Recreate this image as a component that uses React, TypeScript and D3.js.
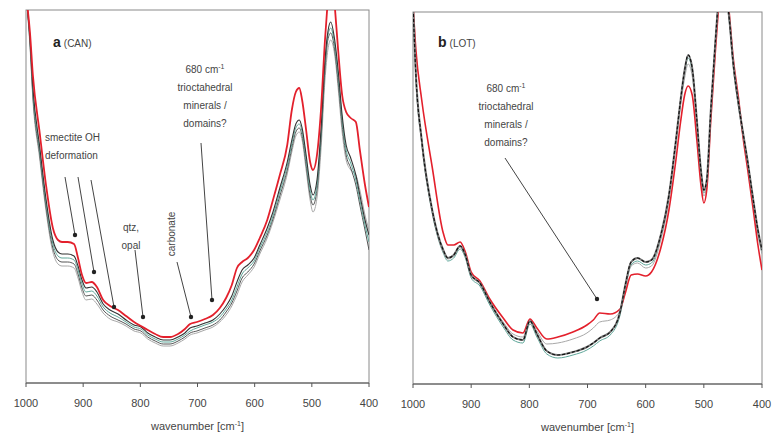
import React from "react";
import * as d3 from "d3";

// ---------- Panel a (CAN) ----------
const wnA = [1000, 993, 988, 976, 965, 953, 944, 937, 927, 916, 909, 902, 895, 885, 876, 865, 853, 839, 825, 811, 799, 787, 774, 760, 748, 734, 722, 713, 701, 687, 673, 661, 650, 640, 631, 622, 612, 601, 591, 578, 568, 556, 543, 535, 528, 522, 517, 510, 503, 498, 491, 484, 477, 472, 467, 460, 454, 447, 440, 432, 423, 416, 407, 400];
const redA = [3.88, 3.50, 3.08, 2.50, 1.98, 1.55, 1.43, 1.41, 1.41, 1.39, 1.25, 1.08, 1.00, 1.01, 0.96, 0.83, 0.77, 0.73, 0.67, 0.61, 0.57, 0.53, 0.49, 0.46, 0.46, 0.49, 0.54, 0.59, 0.61, 0.64, 0.68, 0.75, 0.85, 0.98, 1.15, 1.21, 1.25, 1.33, 1.45, 1.63, 1.83, 2.08, 2.38, 2.73, 2.91, 2.95, 2.83, 2.53, 2.21, 2.13, 2.28, 2.73, 3.43, 3.83, 4.23, 3.78, 3.33, 2.88, 2.71, 2.65, 2.61, 2.33, 1.98, 1.76];
const g1A = [3.88, 3.45, 2.96, 2.36, 1.84, 1.43, 1.31, 1.29, 1.29, 1.27, 1.17, 1.03, 0.95, 0.96, 0.91, 0.79, 0.73, 0.69, 0.63, 0.58, 0.56, 0.50, 0.46, 0.43, 0.43, 0.46, 0.50, 0.55, 0.57, 0.60, 0.63, 0.69, 0.77, 0.87, 1.01, 1.13, 1.18, 1.25, 1.38, 1.55, 1.71, 1.95, 2.21, 2.43, 2.59, 2.63, 2.55, 2.28, 1.98, 1.88, 2.03, 2.53, 3.23, 3.51, 3.61, 3.43, 3.13, 2.68, 2.38, 2.25, 2.08, 1.88, 1.63, 1.48];
const g2A = [3.88, 3.42, 2.92, 2.32, 1.80, 1.39, 1.27, 1.25, 1.25, 1.23, 1.13, 0.99, 0.91, 0.92, 0.87, 0.76, 0.70, 0.66, 0.61, 0.56, 0.54, 0.48, 0.44, 0.41, 0.41, 0.44, 0.48, 0.52, 0.55, 0.58, 0.61, 0.66, 0.74, 0.83, 0.96, 1.09, 1.15, 1.22, 1.35, 1.51, 1.67, 1.91, 2.17, 2.39, 2.55, 2.59, 2.51, 2.23, 1.93, 1.83, 1.98, 2.48, 3.18, 3.47, 3.55, 3.38, 3.07, 2.63, 2.33, 2.20, 2.03, 1.83, 1.58, 1.41];
const g3A = [3.88, 3.39, 2.88, 2.28, 1.76, 1.35, 1.23, 1.21, 1.21, 1.19, 1.09, 0.95, 0.87, 0.88, 0.83, 0.73, 0.67, 0.63, 0.59, 0.54, 0.52, 0.46, 0.42, 0.39, 0.39, 0.42, 0.46, 0.50, 0.52, 0.55, 0.58, 0.63, 0.71, 0.80, 0.92, 1.05, 1.11, 1.19, 1.32, 1.48, 1.64, 1.87, 2.13, 2.35, 2.51, 2.55, 2.47, 2.18, 1.88, 1.78, 1.93, 2.43, 3.13, 3.43, 3.50, 3.33, 3.01, 2.58, 2.28, 2.15, 1.98, 1.78, 1.53, 1.33];
const g4A = [3.88, 3.36, 2.84, 2.24, 1.72, 1.31, 1.19, 1.17, 1.17, 1.15, 1.05, 0.91, 0.83, 0.84, 0.79, 0.70, 0.64, 0.61, 0.57, 0.52, 0.50, 0.44, 0.40, 0.37, 0.37, 0.40, 0.44, 0.48, 0.50, 0.53, 0.56, 0.61, 0.68, 0.77, 0.88, 1.01, 1.08, 1.16, 1.29, 1.45, 1.61, 1.83, 2.09, 2.31, 2.47, 2.51, 2.43, 2.13, 1.83, 1.71, 1.85, 2.33, 3.03, 3.33, 3.43, 3.28, 2.95, 2.51, 2.23, 2.13, 2.08, 1.93, 1.68, 1.53];

// ---------- Panel b (LOT) ----------
const wnB = [1000, 995, 985, 967, 948, 940, 930, 919, 910, 900, 885, 868, 845, 828, 811, 799, 787, 770, 751, 725, 701, 690, 679, 661, 644, 635, 625, 614, 600, 590, 574, 560, 548, 540, 533, 527, 520, 512, 505, 500, 495, 488, 480, 475, 468, 462, 456, 450, 440, 432, 425, 415, 407, 400];
const redB = [3.80, 3.34, 2.84, 2.17, 1.51, 1.39, 1.39, 1.42, 1.32, 1.12, 1.03, 0.85, 0.66, 0.54, 0.51, 0.65, 0.56, 0.45, 0.47, 0.52, 0.59, 0.64, 0.71, 0.70, 0.75, 0.91, 1.09, 1.10, 1.08, 1.12, 1.36, 1.74, 2.24, 2.62, 2.89, 2.98, 2.89, 2.44, 1.99, 1.81, 1.94, 2.64, 3.34, 3.74, 4.24, 4.04, 3.69, 3.29, 2.84, 2.44, 2.16, 1.74, 1.39, 1.14];
const lightB = [3.80, 3.05, 2.40, 1.72, 1.32, 1.25, 1.28, 1.37, 1.28, 1.08, 1.00, 0.82, 0.62, 0.50, 0.47, 0.63, 0.53, 0.40, 0.41, 0.45, 0.51, 0.56, 0.62, 0.64, 0.73, 0.96, 1.18, 1.21, 1.16, 1.18, 1.44, 1.84, 2.38, 2.78, 3.06, 3.20, 3.08, 2.58, 2.08, 1.88, 1.98, 2.68, 3.38, 3.78, 4.28, 3.90, 3.60, 3.20, 2.75, 2.45, 2.20, 1.80, 1.50, 1.30];
const darkB = [3.80, 3.09, 2.44, 1.74, 1.34, 1.26, 1.29, 1.38, 1.29, 1.09, 1.01, 0.82, 0.60, 0.47, 0.44, 0.63, 0.50, 0.33, 0.29, 0.32, 0.37, 0.41, 0.46, 0.52, 0.72, 0.99, 1.22, 1.26, 1.22, 1.24, 1.49, 1.89, 2.44, 2.84, 3.14, 3.29, 3.16, 2.64, 2.14, 1.94, 2.04, 2.74, 3.44, 3.84, 4.34, 3.94, 3.64, 3.24, 2.79, 2.49, 2.24, 1.84, 1.54, 1.34];
const tealB = [3.80, 3.06, 2.41, 1.71, 1.31, 1.23, 1.26, 1.35, 1.26, 1.06, 0.98, 0.79, 0.57, 0.44, 0.41, 0.60, 0.47, 0.30, 0.26, 0.29, 0.34, 0.38, 0.43, 0.49, 0.69, 0.96, 1.19, 1.23, 1.19, 1.21, 1.46, 1.86, 2.41, 2.81, 3.11, 3.26, 3.13, 2.61, 2.11, 1.91, 2.01, 2.71, 3.41, 3.81, 4.31, 3.91, 3.61, 3.21, 2.76, 2.46, 2.21, 1.81, 1.51, 1.31];

const xTicks = [1000, 900, 800, 700, 600, 500, 400];
const axisTitle = "wavenumber [cm";

const FONT = "'Liberation Sans', Arial, sans-serif";

type Series = { values: number[]; color: string; width: number; dash?: string };

function Panel(props: {
  id: string;
  left: number; right: number; top: number; bottom: number;
  yMax: number;
  wn: number[];
  series: Series[];
  label: string; sub: string; labelX: number; labelY: number;
  children?: React.ReactNode;
}) {
  const { id, left, right, top, bottom, yMax, wn, series } = props;
  const x = d3.scaleLinear().domain([1000, 400]).range([left, right]);
  const y = d3.scaleLinear().domain([0, yMax]).range([bottom, top]);
  const line = (vals: number[]) =>
    d3.line<number>()
      .x((_, i) => x(wn[i]))
      .y((v) => y(v))
      .curve(d3.curveMonotoneX)(vals) || "";
  return (
    <g>
      <defs>
        <clipPath id={id}>
          <rect x={left} y={top} width={right - left} height={bottom - top} />
        </clipPath>
      </defs>
      <rect x={left} y={top} width={right - left} height={bottom - top} fill="none" stroke="#8a8a8a" strokeWidth={1} />
      <g clipPath={`url(#${id})`}>
        {series.map((s, i) => (
          <path key={i} d={line(s.values)} fill="none" stroke={s.color} strokeWidth={s.width} strokeDasharray={s.dash} strokeLinejoin="round" />
        ))}
      </g>
      <line x1={left} x2={right} y1={bottom} y2={bottom} stroke="#555" strokeWidth={1} />
      {xTicks.map((t) => (
        <g key={t}>
          <line x1={x(t)} x2={x(t)} y1={bottom} y2={bottom + 4} stroke="#555" strokeWidth={1} />
          <text x={x(t)} y={bottom + 24} textAnchor="middle" fontSize={11} fill="#444" fontFamily={FONT}>{t}</text>
        </g>
      ))}
      <text x={(left + right) / 2} y={bottom + 47} textAnchor="middle" fontSize={11} fill="#444" fontFamily={FONT}>
        {axisTitle}
        <tspan dy={-4} fontSize={7}>-1</tspan>
        <tspan dy={4}>]</tspan>
      </text>
      <text x={props.labelX} y={props.labelY} fontFamily={FONT} fill="#222">
        <tspan fontSize={14} fontWeight="bold">{props.label}</tspan>
        <tspan fontSize={10} fill="#444" dx={3}>{props.sub}</tspan>
      </text>
      {props.children}
    </g>
  );
}

function Note(props: { x: number; y: number; lines: string[]; anchor?: string; sup?: boolean }) {
  return (
    <text fontSize={10} fill="#444" fontFamily={FONT} textAnchor={props.anchor || "middle"}>
      {props.lines.map((l, i) => (
        <tspan key={i} x={props.x} y={props.y + i * 18}>
          {l}
          {i === 0 && props.sup ? <tspan dy={-4} fontSize={7}>-1</tspan> : null}
        </tspan>
      ))}
    </text>
  );
}

function Arrow(props: { x1: number; y1: number; x2: number; y2: number }) {
  return (
    <g>
      <line x1={props.x1} y1={props.y1} x2={props.x2} y2={props.y2} stroke="#444" strokeWidth={1} />
      <circle cx={props.x2} cy={props.y2} r={2.2} fill="#222" />
    </g>
  );
}

export default function App() {
  const seriesA: Series[] = [
    { values: g4A, color: "#a8a8a8", width: 1 },
    { values: g3A, color: "#555555", width: 1 },
    { values: g2A, color: "#5fa79a", width: 1 },
    { values: g1A, color: "#333333", width: 1.1 },
    { values: redA, color: "#e3202c", width: 1.8 },
  ];
  const seriesB: Series[] = [
    { values: tealB, color: "#5fa79a", width: 1 },
    { values: lightB, color: "#a8a8a8", width: 1 },
    { values: redB, color: "#e3202c", width: 1.6 },
    { values: darkB, color: "#777777", width: 2 },
    { values: darkB, color: "#111111", width: 1.2, dash: "3,2" },
  ];
  return (
    <svg width={774} height={441} style={{ position: "absolute", left: 0, top: 0, background: "#fff" }}>
      <Panel id="clipA" left={26} right={369} top={10} bottom={383} yMax={3.73} wn={wnA} series={seriesA}
        label="a" sub="(CAN)" labelX={53} labelY={47}>
        <Note x={205} y={73} lines={["680 cm", "trioctahedral", "minerals /", "domains?"]} sup />
        <Arrow x1={201} y1={143} x2={212} y2={300} />
        <Note x={45} y={141} anchor="start" lines={["smectite OH", "deformation"]} />
        <Arrow x1={65} y1={177} x2={75} y2={235} />
        <Arrow x1={78} y1={177} x2={94} y2={272} />
        <Arrow x1={91} y1={180} x2={114} y2={307} />
        <Note x={131} y={231} lines={["qtz,", "opal"]} />
        <Arrow x1={135} y1={250} x2={143} y2={317} />
        <text transform="translate(175,234) rotate(-90)" textAnchor="middle" fontSize={10} fill="#444" fontFamily={FONT}>carbonate</text>
        <Arrow x1={177} y1={262} x2={191} y2={317} />
      </Panel>
      <Panel id="clipB" left={413} right={762} top={12} bottom={384} yMax={3.72} wn={wnB} series={seriesB}
        label="b" sub="(LOT)" labelX={438} labelY={47}>
        <Note x={506} y={92} lines={["680 cm", "trioctahedral", "minerals /", "domains?"]} sup />
        <Arrow x1={505} y1={158} x2={597} y2={299} />
      </Panel>
    </svg>
  );
}
